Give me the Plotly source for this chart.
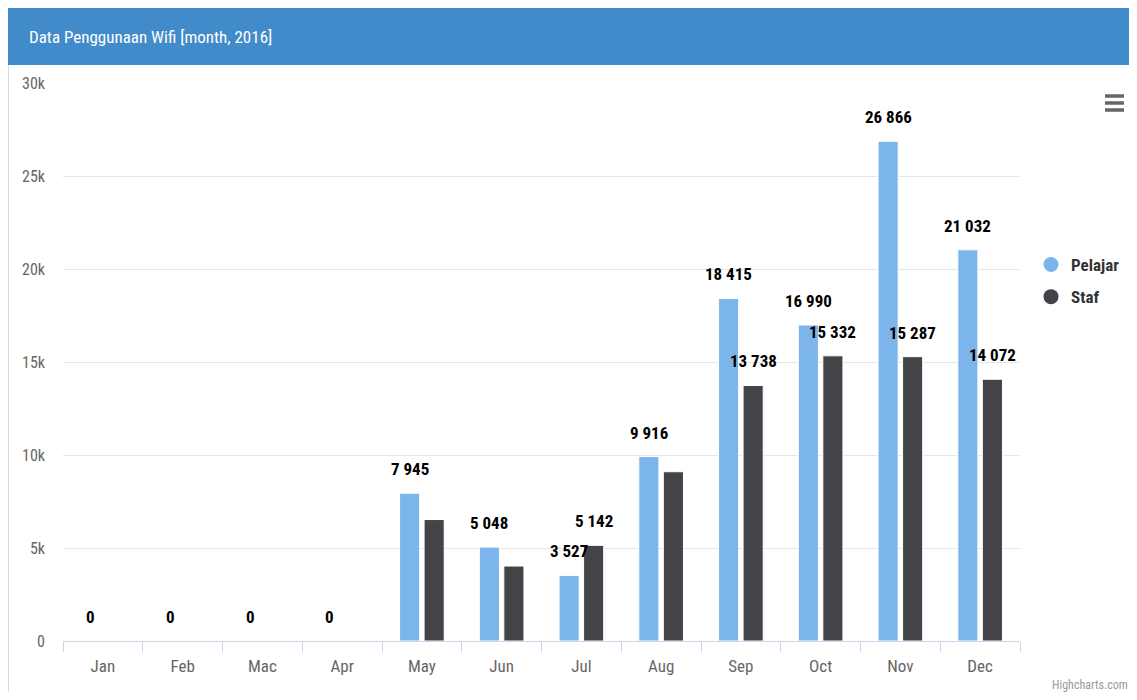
import plotly.graph_objects as go

# ---- data ----
months = ["Jan", "Feb", "Mac", "Apr", "May", "Jun", "Jul", "Aug", "Sep", "Oct", "Nov", "Dec"]
pelajar = [0, 0, 0, 0, 7945, 5048, 3527, 9916, 18415, 16990, 26866, 21032]
staf = [0, 0, 0, 0, 6530, 4030, 5142, 9100, 13738, 15332, 15287, 14072]
pelajar_label_shown = [True] * 12
staf_label_shown = [False, False, False, False, False, False, True, False, True, True, True, True]
y_ticks = [0, 5000, 10000, 15000, 20000, 25000, 30000]
y_tick_text = ["0", "5k", "10k", "15k", "20k", "25k", "30k"]

# ---- layout geometry (page body has an 8px margin; keep the figure inside the viewport) ----
OFF = 8
W, H = 1137 - 2 * OFF, 700 - 2 * OFF
L, R, T, B = 55, 109, 75, 51
PW, PH = W - L - R, H - T - B


def px(x):
    return (x - OFF - L) / PW


def py(y):
    return (H - B - (y - OFF)) / PH


def cx(x):
    return (x - OFF) / W


def cy(y):
    return 1 - (y - OFF) / H


X_MIN, X_MAX = px(OFF), px(OFF + W)
Y_TOP, Y_BOT = py(OFF), py(OFF + H)

FONT = "Roboto Condensed, Liberation Sans Narrow, Arial Narrow, Roboto, sans-serif"
C_PEL = "#7cb5ec"
C_STA = "#434348"

fig = go.Figure()
fig.add_trace(go.Bar(x=months, y=pelajar, name="Pelajar", marker=dict(color=C_PEL, line=dict(color="white", width=1)),
                     showlegend=False, hoverinfo="skip"))
fig.add_trace(go.Bar(x=months, y=staf, name="Staf", marker=dict(color=C_STA, line=dict(color="white", width=1)),
                     showlegend=False, hoverinfo="skip"))
# legend proxies (circle symbols)
fig.add_trace(go.Scatter(x=[None], y=[None], mode="markers", name="<b>Pelajar</b>", legendgroup="p",
                         marker=dict(color=C_PEL, size=15, symbol="circle")))
fig.add_trace(go.Scatter(x=[None], y=[None], mode="markers", name="<b>Staf</b>", legendgroup="s",
                         marker=dict(color=C_STA, size=15, symbol="circle")))

annotations = []


def fmt(v):
    return f"{v:,}".replace(",", " ")


for m, v, s in zip(months, pelajar, pelajar_label_shown):
    if s:
        annotations.append(dict(x=m, y=v, xref="x", yref="y", text=f"<b>{fmt(v)}</b>", showarrow=False,
                                xshift=-12.25, yshift=24, yanchor="middle",
                                font=dict(family=FONT, size=17, color="#000000")))
for m, v, s in zip(months, staf, staf_label_shown):
    if s:
        annotations.append(dict(x=m, y=v, xref="x", yref="y", text=f"<b>{fmt(v)}</b>", showarrow=False,
                                xshift=12.25, yshift=24, yanchor="middle",
                                font=dict(family=FONT, size=17, color="#000000")))

# title in header
annotations.append(dict(x=px(27), y=py(37), xref="paper", yref="paper", text="Data Penggunaan Wifi [month, 2016]",
                        showarrow=False, xanchor="left", yanchor="middle",
                        font=dict(family=FONT, size=17, color="white")))
# credit
annotations.append(dict(x=px(1130), y=py(685), xref="paper", yref="paper", text="Highcharts.com",
                        showarrow=False, xanchor="right", yanchor="middle",
                        font=dict(family=FONT, size=12, color="#999999")))

shapes = [
    # panel left border
    dict(type="line", xref="paper", yref="paper", x0=px(8.5), x1=px(8.5), y0=Y_BOT, y1=Y_TOP,
         line=dict(color="#d9d9d9", width=1), layer="below"),
    # header bar
    dict(type="rect", xref="paper", yref="paper", x0=X_MIN, x1=X_MAX, y0=py(65), y1=Y_TOP,
         line=dict(width=0), fillcolor="#428bca", layer="below"),
]
# menu icon
for yy in (96, 103, 110):
    shapes.append(dict(type="line", xref="paper", yref="paper", x0=px(1105), x1=px(1124), y0=py(yy), y1=py(yy),
                       line=dict(color="#666666", width=3.5)))

fig.update_layout(
    width=W, height=H, autosize=False,
    margin=dict(l=L, r=R, t=T, b=B, pad=0, autoexpand=False),
    paper_bgcolor="white", plot_bgcolor="white",
    barmode="group", bargap=0.385, bargroupgap=0.18,
    font=dict(family=FONT, color="#666666"),
    separators=". ",
    showlegend=True,
    legend=dict(xref="container", yref="container", x=cx(1031), y=cy(281), xanchor="left", yanchor="middle",
                bgcolor="rgba(0,0,0,0)", font=dict(family=FONT, size=17, color="#333333"), itemclick=False,
                traceorder="grouped", tracegroupgap=7, itemwidth=30),
    xaxis=dict(type="category", showline=True, linecolor="#ccd6eb", linewidth=1, ticks="outside",
               tickson="boundaries", ticklen=10, tickcolor="#ccd6eb", showgrid=False,
               ticklabelstandoff=10,
               tickfont=dict(family=FONT, size=17, color="#666666"), fixedrange=True),
    yaxis=dict(range=[0, 30000], tickvals=y_ticks, ticktext=y_tick_text, showgrid=True, gridcolor="#e6e6e6",
               zeroline=False, showline=False, ticks="", ticklabelstandoff=17,
               tickfont=dict(family=FONT, size=16, color="#666666"), fixedrange=True),
    annotations=annotations,
    shapes=shapes,
)

fig.write_html("out.html", config={"displayModeBar": False})
